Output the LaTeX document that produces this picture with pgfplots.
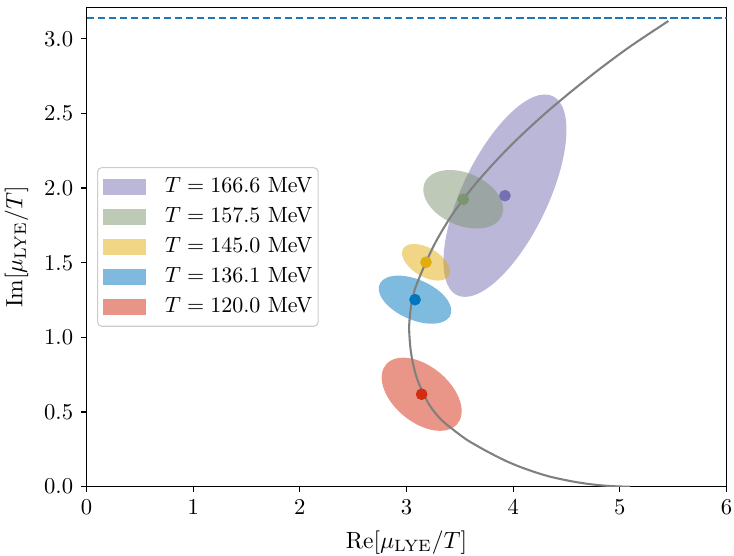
\documentclass[border=0pt]{standalone}
\usepackage{pgfplots}
\pgfplotsset{compat=1.18}

\definecolor{cPurple}{HTML}{7570B3}
\definecolor{cGreen}{HTML}{7D956F}
\definecolor{cYellow}{HTML}{E1AD0D}
\definecolor{cBlue}{HTML}{0077BD}
\definecolor{cRed}{HTML}{D32D11}
\definecolor{cDash}{HTML}{1F77B4}

% Confidence ellipse in data units: colour, centre (cx,cy),
% and two conjugate semi-axes (ux,uy) and (vx,vy).
\newcommand{\confellipse}[7]{%
  \pgfplotsextra{%
    \begin{pgfscope}
      \pgfsetfillcolor{#1}\pgfsetfillopacity{0.5}%
      \pgfpathellipse{\pgfplotspointaxisxy{#2}{#3}}%
        {\pgfplotspointaxisdirectionxy{#4}{#5}}%
        {\pgfplotspointaxisdirectionxy{#6}{#7}}%
      \pgfusepath{fill}%
    \end{pgfscope}}}

% Lee-Yang edge trajectory
\pgfplotstableread{
x      y
5.095  0.0000
5.000  0.0011
4.900  0.0046
4.800  0.0104
4.700  0.0187
4.600  0.0294
4.500  0.0425
4.345  0.0670
4.209  0.0960
4.059  0.1340
3.933  0.1720
3.787  0.2240
3.660  0.2740
3.545  0.3240
3.370  0.4200
3.285  0.4800
3.215  0.5470
3.160  0.6200
3.122  0.6800
3.088  0.7480
3.057  0.8370
3.037  0.9270
3.027  1.0160
3.025  1.0600
3.027  1.1050
3.040  1.1950
3.064  1.2840
3.092  1.3500
3.180  1.5000
3.282  1.6500
3.408  1.8000
3.532  1.9250
3.673  2.0500
3.862  2.2000
4.071  2.3500
4.300  2.5000
4.550  2.6500
4.815  2.8000
5.100  2.9500
5.455  3.1190
}\lyetraj

\begin{document}
\begin{tikzpicture}
\begin{axis}[
  at={(0,0)}, anchor=south west,
  scale only axis,
  width=308.14pt, height=230.8pt,
  xmin=0, xmax=6, ymin=0, ymax=3.211,
  xtick={0,1,2,3,4,5,6},
  ytick={0,0.5,1,1.5,2,2.5,3},
  yticklabel style={/pgf/number format/.cd, fixed, fixed zerofill, precision=1},
  tick label style={scale=1.09},
  label style={scale=1.13},
  tick align=outside, tick pos=left,
  major tick length=2.6pt,
  axis line style={line width=0.6pt},
  every tick/.style={line width=0.6pt, black},
  xlabel={$\mathrm{Re}[\mu_{\mathrm{LYE}}/T]$},
  ylabel={$\mathrm{Im}[\mu_{\mathrm{LYE}}/T]$},
  legend cell align=left,
  legend image code/.code={%
    \fill[sharp corners, #1] (2.1pt,-3.78pt) rectangle (22.6pt,3.78pt);
    \path (0pt,0pt) (29.8pt,0pt);},
  legend style={
    at={(0.0164,0.5)}, anchor=west,
    draw=black!20, rounded corners=2pt, line width=0.5pt,
    fill=white, fill opacity=0.8, text opacity=1,
    inner xsep=0.7pt, inner ysep=2pt,
    nodes={scale=1.06, inner xsep=1.9pt, inner ysep=2.1pt, text height=7.1pt, text depth=2.35pt},
  },
]
% legend entries
\addlegendimage{fill=cPurple, fill opacity=0.5, draw=none}
\addlegendentry{$T = 166.6$ MeV}
\addlegendimage{fill=cGreen, fill opacity=0.5, draw=none}
\addlegendentry{$T = 157.5$ MeV}
\addlegendimage{fill=cYellow, fill opacity=0.5, draw=none}
\addlegendentry{$T = 145.0$ MeV}
\addlegendimage{fill=cBlue, fill opacity=0.5, draw=none}
\addlegendentry{$T = 136.1$ MeV}
\addlegendimage{fill=cRed, fill opacity=0.5, draw=none}
\addlegendentry{$T = 120.0$ MeV}

% uncertainty ellipses
\confellipse{cPurple}{3.923}{1.949}{0.375}{0.678}{0.438}{0}
\confellipse{cGreen}{3.532}{1.925}{-0.125}{0.196}{0.353}{0}
\confellipse{cYellow}{3.183}{1.503}{-0.1125}{0.1226}{0.195}{0}
\confellipse{cBlue}{3.080}{1.2525}{-0.157}{0.161}{0.302}{0}
\confellipse{cRed}{3.142}{0.619}{-0.1725}{0.245}{0.333}{0}

% central values
\addplot[forget plot, only marks, mark=*, mark size=2.6pt, cPurple] coordinates {(3.923,1.949)};
\addplot[forget plot, only marks, mark=*, mark size=2.6pt, cGreen] coordinates {(3.532,1.925)};
\addplot[forget plot, only marks, mark=*, mark size=2.6pt, cYellow] coordinates {(3.183,1.503)};
\addplot[forget plot, only marks, mark=*, mark size=2.6pt, cBlue] coordinates {(3.080,1.2525)};
\addplot[forget plot, only marks, mark=*, mark size=2.6pt, cRed] coordinates {(3.142,0.619)};

% trajectory and the Roberge-Weiss line Im = pi
\addplot[forget plot, gray, line width=1pt, smooth] table[x=x, y=y] {\lyetraj};
\addplot[forget plot, cDash, line width=1pt, dash pattern=on 3.7pt off 1.6pt] coordinates {(0,3.14159) (6,3.14159)};
\end{axis}
\pgfresetboundingbox
\useasboundingbox (-41.65pt,-33.37pt) rectangle (311.75pt,234.31pt);
\end{tikzpicture}
\end{document}
